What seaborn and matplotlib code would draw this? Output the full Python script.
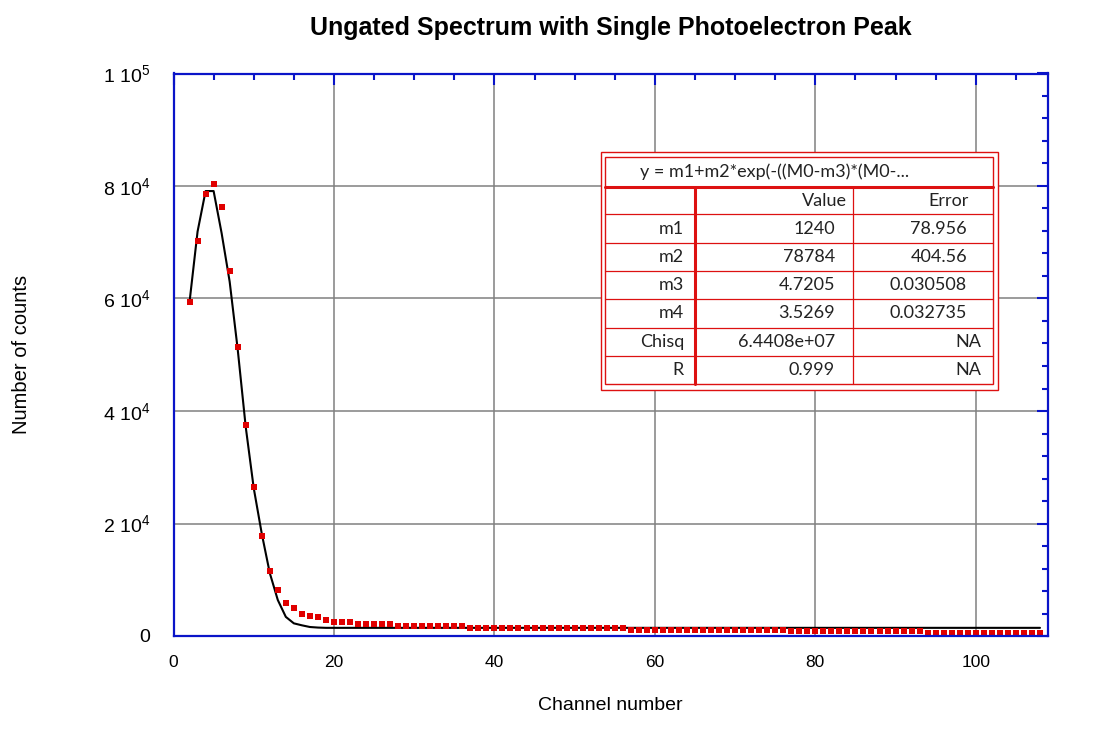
import numpy as np
import matplotlib
matplotlib.use("Agg")
import matplotlib.pyplot as plt
from matplotlib.ticker import MultipleLocator, FixedLocator, FixedFormatter
from matplotlib.patches import Rectangle
import seaborn as sns

# channel numbers of the measured spectrum
channels = np.arange(2, 109)

counts = [
    59400, 70300, 78600, 80400, 76300, 64900, 51400, 37600, 26500, 17700,
    11600, 8200, 5900, 4900, 4000, 3600, 3300, 2850, 2500, 2550,
    2550, 2200, 2200, 2200, 2200, 2200, 1850, 1850, 1850, 1850,
    1850, 1850, 1850, 1850, 1850, 1480, 1480, 1480, 1480, 1480,
    1480, 1480, 1480, 1480, 1480, 1480, 1480, 1480, 1480, 1480,
    1480, 1480, 1480, 1480, 1480, 1120, 1120, 1120, 1120, 1120,
    1120, 1120, 1120, 1120, 1120, 1120, 1120, 1120, 1120, 1120,
    1120, 1120, 1120, 1120, 1120, 940, 940, 940, 940, 940,
    940, 940, 940, 940, 940, 940, 940, 940, 940, 940,
    940, 940, 590, 590, 590, 590, 590, 590, 590, 590,
    590, 590, 590, 590, 590, 590, 590,
]

# gaussian fit curve (black line)
fit = [
    59400, 71900, 79100, 79100, 71600, 63000, 51000, 37200, 26300, 18200,
    11200, 6400, 3400, 2250, 1900, 1600, 1500, 1450, 1450, 1450,
    1450, 1450, 1450, 1450, 1450, 1450, 1450, 1450, 1450, 1450,
    1450, 1450, 1450, 1450, 1450, 1450, 1450, 1450, 1450, 1450,
    1450, 1450, 1450, 1450, 1450, 1450, 1450, 1450, 1450, 1450,
    1450, 1450, 1450, 1450, 1450, 1450, 1450, 1450, 1450, 1450,
    1450, 1450, 1450, 1450, 1450, 1450, 1450, 1450, 1450, 1450,
    1450, 1450, 1450, 1450, 1450, 1450, 1450, 1450, 1450, 1450,
    1450, 1450, 1450, 1450, 1450, 1450, 1450, 1450, 1450, 1450,
    1450, 1450, 1450, 1450, 1450, 1450, 1450, 1450, 1450, 1450,
    1450, 1450, 1450, 1450, 1450, 1450, 1450,
]

xticks = [0, 20, 40, 60, 80, 100]
yticks = [0, 20000, 40000, 60000, 80000, 100000]
ytick_labels = ["0", "2 10$^{4}$", "4 10$^{4}$", "6 10$^{4}$", "8 10$^{4}$", "1 10$^{5}$"]

# fit results table
fit_formula = "y = m1+m2*exp(-((M0-m3)*(M0-..."
param_names = ["m1", "m2", "m3", "m4", "Chisq", "R"]
param_values = ["1240", "78784", "4.7205", "3.5269", "6.4408e+07", "0.999"]
param_errors = ["78.956", "404.56", "0.030508", "0.032735", "NA", "NA"]

sns.set_style("white")
plt.rcParams["font.family"] = ["Liberation Sans", "DejaVu Sans"]
plt.rcParams["mathtext.fontset"] = "custom"
plt.rcParams["mathtext.rm"] = "Liberation Sans"
plt.rcParams["mathtext.default"] = "regular"
plt.rcParams["text.color"] = "black"
plt.rcParams["axes.labelcolor"] = "black"
plt.rcParams["xtick.labelcolor"] = "black"
plt.rcParams["ytick.labelcolor"] = "black"

BLUE = "#0a14c8"
RED = "#dd1111"

fig = plt.figure(figsize=(10.95, 7.44), dpi=100)
W, H = 1095, 744
left, right, top, bottom = 173.5, 1048, 73.5, 636
ax = fig.add_axes([left / W, 1 - bottom / H, (right - left) / W, (bottom - top) / H])

sns.lineplot(x=channels, y=fit, color="black", lw=1.5, ax=ax, zorder=2)
sns.scatterplot(x=channels, y=counts, marker="s", s=14, color="#e00000",
                linewidth=0, ax=ax, zorder=3)

ax.set_xlim(0, 109)
ax.set_ylim(0, 100000)
ax.xaxis.set_major_locator(FixedLocator(xticks))
ax.xaxis.set_minor_locator(MultipleLocator(5))
ax.yaxis.set_major_locator(FixedLocator(yticks))
ax.yaxis.set_major_formatter(FixedFormatter(ytick_labels))
ax.yaxis.set_minor_locator(MultipleLocator(4000))

ax.grid(which="major", color="#808080", lw=1.1)
ax.set_axisbelow(True)
for sp in ax.spines.values():
    sp.set_color(BLUE)
    sp.set_linewidth(1.6)
    sp.set_zorder(4)

ax.tick_params(which="both", direction="in", top=True, right=True,
               color=BLUE, width=1.5)
ax.tick_params(which="major", length=8)
ax.tick_params(which="minor", length=4.5)
ax.tick_params(axis="x", pad=14, labelsize=12.5)
ax.tick_params(axis="y", pad=17, labelsize=14)

ax.set_xlabel("Channel number", fontsize=14)
ax.set_ylabel("Number of counts", fontsize=14.5)
ax.xaxis.set_label_coords(0.5, -(705 - bottom) / (bottom - top))
ax.xaxis.label.set_va("center")
ax.yaxis.set_label_coords(-(left - 22) / (right - left), 0.5)
ax.yaxis.label.set_va("center")

fig.text((left + right) / 2 / W, 1 - 28 / H,
         "Ungated Spectrum with Single Photoelectron Peak",
         ha="center", va="center", fontsize=18, fontweight="bold")

# overlay in pixel coordinates for the fit table
tab = fig.add_axes([0, 0, 1, 1], zorder=5)
tab.set_xlim(0, W)
tab.set_ylim(H, 0)
tab.axis("off")
tab.patch.set_alpha(0)

tab.add_patch(Rectangle((601, 151.7), 397, 238.3, facecolor="white",
                        edgecolor=RED, lw=1.0))
tab.add_patch(Rectangle((605, 156.7), 388, 227.3, facecolor="none",
                        edgecolor=RED, lw=1.0))
tab.plot([605, 993], [186.7, 186.7], color=RED, lw=2.2)
row_lines = [214, 242.7, 271, 299.3, 327.7, 356]
for yl in row_lines:
    tab.plot([605, 993], [yl, yl], color=RED, lw=0.9)
tab.plot([695, 695], [186.7, 384], color=RED, lw=2.2)
tab.plot([852.7, 852.7], [186.7, 384], color=RED, lw=0.9)

tfont = dict(family=["Lato", "DejaVu Sans"], fontsize=13, color="#222222", va="center")
tab.text(640, 171.5, fit_formula, ha="left", **tfont)
tab.text(847, 200.5, "Value", ha="right", **tfont)
tab.text(969, 200.5, "Error", ha="right", **tfont)
row_centers = [228.5, 257, 285, 313.5, 342, 370]
for yc, nm, val, err in zip(row_centers, param_names, param_values, param_errors):
    tab.text(684, yc, nm, ha="right", **tfont)
    tab.text(835, yc, val, ha="right", **tfont)
    tab.text(981 if err == "NA" else 967, yc, err, ha="right", **tfont)

fig.savefig("out.png", dpi=100)
